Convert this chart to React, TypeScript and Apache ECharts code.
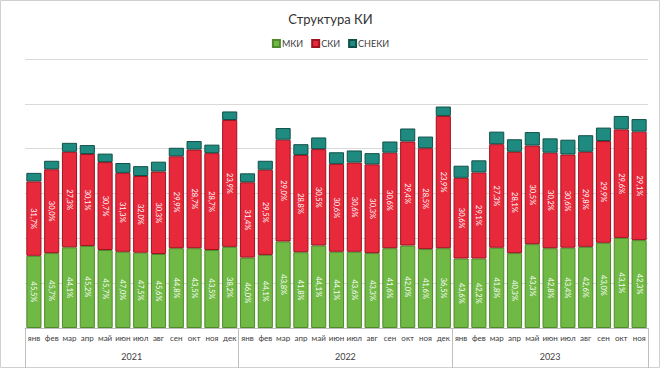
import React, { useEffect, useRef } from "react";
import * as echarts from "echarts";

const monthNames = ["янв", "фев", "мар", "апр", "май", "июн", "июл", "авг", "сен", "окт", "ноя", "дек"];
const years = ["2021", "2022", "2023"];
const monthsPerYear = [12, 12, 11];

const categories: string[] = [];
monthsPerYear.forEach((n) => {
  for (let i = 0; i < n; i++) categories.push(monthNames[i]);
});

// bar heights (arbitrary units, 1 unit = 1 gridline)
const mkiValues = [
  1.61, 1.67, 1.8, 1.83, 1.74, 1.7, 1.68, 1.65, 1.78, 1.78, 1.74, 1.81,
  1.57, 1.63, 1.93, 1.69, 1.84, 1.7, 1.7, 1.67, 1.78, 1.84, 1.76, 1.78,
  1.55, 1.55, 1.79, 1.67, 1.87, 1.78, 1.79, 1.81, 1.9, 2.01, 1.96,
];
const skiValues = [
  1.66, 1.87, 2.13, 2.05, 1.96, 1.76, 1.71, 1.84, 2.05, 2.2, 2.16, 2.83,
  1.68, 1.9, 2.27, 2.17, 2.15, 1.96, 1.99, 1.98, 2.13, 2.32, 2.25, 2.95,
  1.8, 1.92, 2.31, 2.26, 2.2, 2.13, 2.08, 2.12, 2.27, 2.42, 2.42,
];
const snekiValues = [
  0.19, 0.19, 0.2, 0.2, 0.19, 0.22, 0.22, 0.22, 0.19, 0.19, 0.19, 0.19,
  0.2, 0.2, 0.26, 0.24, 0.26, 0.26, 0.27, 0.25, 0.25, 0.29, 0.26, 0.21,
  0.27, 0.27, 0.28, 0.28, 0.3, 0.32, 0.33, 0.37, 0.3, 0.3, 0.28,
];

// percentage labels shown in bars
const mkiLabels = [
  45.5, 45.7, 44.1, 45.2, 45.7, 47.0, 47.5, 45.6, 44.8, 43.5, 43.5, 38.2,
  46.0, 44.1, 43.8, 41.8, 44.1, 44.1, 43.6, 43.3, 41.6, 42.0, 41.6, 36.5,
  43.6, 42.2, 41.8, 40.3, 43.3, 42.8, 43.4, 42.6, 43.0, 43.1, 42.3,
];
const skiLabels = [
  31.7, 30.0, 27.3, 30.1, 30.7, 31.3, 32.0, 30.3, 29.9, 28.7, 28.7, 23.9,
  31.4, 29.5, 29.0, 28.8, 30.5, 30.6, 30.6, 30.3, 30.6, 29.4, 28.5, 23.9,
  30.6, 29.1, 27.3, 28.1, 30.5, 30.2, 30.6, 29.8, 29.9, 29.6, 29.1,
];

const yearCenters: number[] = [];
const yearBounds: number[] = [0];
{
  let acc = 0;
  monthsPerYear.forEach((n) => {
    yearCenters.push(acc + n / 2);
    acc += n;
    yearBounds.push(acc);
  });
}

const fmt = (v: number) => v.toFixed(1).replace(".", ",") + "%";
const FONT = "Lato, 'Open Sans', sans-serif";

export default function App() {
  const ref = useRef<HTMLDivElement>(null);
  useEffect(() => {
    if (!ref.current) return;
    const chart = echarts.init(ref.current, undefined, { renderer: "svg" });
    const labelStyle = (arr: number[]) => ({
      show: true,
      position: "inside" as const,
      rotate: -90,
      color: "#ffffff",
      fontSize: 7.5,
      fontFamily: FONT,
      formatter: (p: any) => fmt(arr[p.dataIndex]),
    });
    chart.setOption({
      animation: false,
      backgroundColor: "#ffffff",
      textStyle: { fontFamily: FONT },
      title: {
        text: "Структура КИ",
        left: "center",
        top: 7,
        textStyle: { fontSize: 13, fontWeight: "normal", color: "#333333", fontFamily: FONT },
      },
      legend: {
        top: 34,
        left: "center",
        itemWidth: 7,
        itemHeight: 7,
        itemGap: 8,
        icon: "rect",
        textStyle: { fontSize: 9, color: "#404040", fontFamily: FONT, padding: [0, 0, 0, -3] },
        data: ["МКИ", "СКИ", "СНЕКИ"],
      },
      grid: { left: 25, right: 13, top: 59, bottom: 41, containLabel: false },
      xAxis: [
        {
          type: "category",
          data: categories,
          position: "bottom",
          axisLine: { lineStyle: { color: "#bfbfbf" } },
          axisTick: { show: false },
          axisLabel: { interval: 0, fontSize: 8, color: "#404040", margin: 6, fontFamily: FONT },
        },
        {
          type: "value",
          min: 0,
          max: categories.length,
          position: "bottom",
          axisLine: { show: false },
          splitLine: { show: false },
          axisTick: {
            show: true,
            customValues: yearBounds,
            length: 40,
            lineStyle: { color: "#bfbfbf" },
          },
          axisLabel: {
            customValues: yearCenters,
            margin: 24,
            fontSize: 9,
            color: "#404040",
            fontFamily: FONT,
            formatter: (v: number) => {
              const i = yearCenters.findIndex((c) => Math.abs(c - v) < 1e-6);
              return i >= 0 ? years[i] : "";
            },
          },
        },
      ],
      yAxis: {
        type: "value",
        min: 0,
        max: 6,
        interval: 1,
        axisLabel: { show: false },
        axisLine: { show: false },
        axisTick: { show: false },
        splitLine: { lineStyle: { color: "#d9d9d9" } },
      },
      series: [
        {
          name: "МКИ",
          type: "bar",
          stack: "total",
          barCategoryGap: "15%",
          data: mkiValues,
          itemStyle: { color: "#70b944", borderColor: "#4f8a2c", borderWidth: 1 },
          label: labelStyle(mkiLabels),
        },
        {
          name: "СКИ",
          type: "bar",
          stack: "total",
          data: skiValues,
          itemStyle: { color: "#e8293b", borderColor: "#9e1320", borderWidth: 1 },
          label: labelStyle(skiLabels),
        },
        {
          name: "СНЕКИ",
          type: "bar",
          stack: "total",
          data: snekiValues,
          itemStyle: { color: "#1f8b80", borderColor: "#115048", borderWidth: 1 },
        },
      ],
      graphic: [
        {
          type: "rect",
          shape: { x: 0.5, y: 0.5, width: 659, height: 367 },
          style: { fill: "none", stroke: "#d0d0d0", lineWidth: 1 },
          silent: true,
        },
      ],
    });
    return () => chart.dispose();
  }, []);
  return (
    <div
      ref={ref}
      style={{ position: "absolute", left: 0, top: 0, width: 661, height: 369 }}
    />
  );
}
